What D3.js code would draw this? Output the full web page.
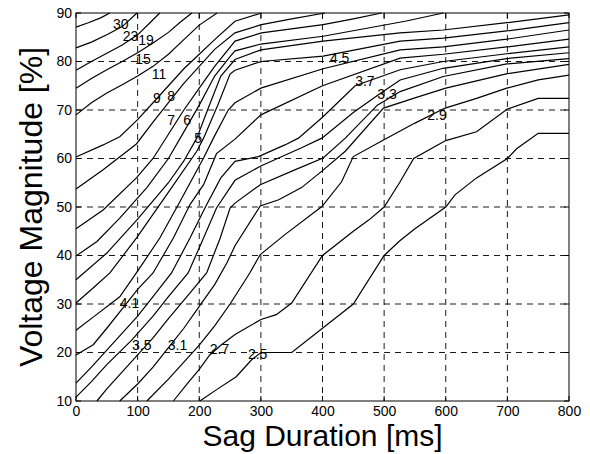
<!DOCTYPE html>
<html><head><meta charset="utf-8">
<script src="https://cdn.jsdelivr.net/npm/d3@7"></script>
<style>body{margin:0;background:#fff}svg{display:block}text{font-family:"Liberation Sans",Arial,sans-serif}</style>
</head><body><svg id="c" width="590" height="454"></svg>
<script>
const xTicks=[0,100,200,300,400,500,600,700,800];
const yTicks=[10,20,30,40,50,60,70,80,90];
// contour lines, [sag duration ms, voltage %]
const L30=[[0,87.1],[20,88],[40,89],[55,90]];
const L23=[[0,82.8],[25,84],[50,85.5],[75,87.2],[99,90]];
const L19=[[0,78.2],[25,80],[50,81.7],[75,83.4],[100,85.5],[120,88],[136,90]];
const L15=[[0,74.5],[25,76.5],[50,78.3],[75,80],[100,81.8],[125,83.8],[150,86],[170,88.2],[188,90]];
const L11=[[0,69],[25,71.5],[50,73.5],[75,75.2],[100,77],[125,79],[150,81.5],[175,84.5],[200,87.5],[229,90]];
const L9=[[0,60.3],[44,62.8],[71,64.5],[100,68],[125,71.5],[150,75],[175,78.5],[200,81.5],[225,84.5],[258,88.3],[301,90]];
const L8=[[0,53.7],[44,57.7],[98,63],[125,67.5],[150,71.5],[175,75.5],[200,79],[225,82.5],[258,85.9],[301,87.6],[350,88.8],[404,90]];
const L7=[[0,45.5],[44,49.4],[98,56],[125,60],[150,65],[175,70],[200,74.5],[225,79],[258,84.2],[301,85.9],[401,87.6],[450,88.8],[496,90]];
const L6=[[0,39.9],[34,42.9],[71,47.7],[115,54],[150,60],[175,65.5],[200,71],[225,77],[250,81],[258,82.2],[300,83.6],[401,85.2],[534,88.3],[596,90]];
const L5=[[0,35],[50,40.5],[100,47.5],[150,55],[175,59.5],[196,64.2],[215,70.5],[235,77],[258,80.4],[300,82.4],[401,84.2],[526,85.9],[596,86.5],[699,88],[800,89.6]];
const L45=[[0,30.2],[25,33],[55,36.4],[98,43.6],[147,52.5],[196,61.5],[207,64.2],[230,71],[250,77.4],[258,78.2],[300,80],[401,81.1],[526,84.2],[596,84.8],[699,86.3],[800,88]];
const L41=[[0,24.6],[30,27.5],[71,31.5],[98,36.4],[136,43.6],[169,51.2],[207,60.1],[223,64.2],[247,70],[258,71.5],[300,74.5],[401,78.5],[526,82.4],[596,83],[699,84.6],[800,86.5]];
const L39=[[0,19.5],[28,21.6],[50,25],[75,29],[100,33],[125,36.4],[158,43.6],[185,50.5],[207,54.6],[228,61],[258,64],[300,69],[400,75],[526,80.7],[596,81.5],[699,83],[800,84.6]];
const L37=[[0,13.7],[25,17],[50,20.5],[75,24],[100,27.5],[125,31.5],[155,36.4],[185,43.6],[210,50],[235,56],[258,59.4],[296,60.4],[339,62.8],[361,64.2],[400,68.5],[453,75],[526,78.3],[596,80],[699,81.6],[800,83]];
const L35=[[0,10.8],[25,14],[50,17.5],[90,22.5],[125,27.5],[150,31.5],[182,36.4],[207,43.6],[228,49.8],[258,55.5],[299,58.4],[366,62.2],[399,64.2],[450,69.5],[489,73],[526,76.2],[596,78.6],[699,80.6],[800,81.8]];
const L33=[[34,10],[50,12.5],[75,16],[100,19.5],[125,23],[150,27],[180,31.5],[212,36.4],[234,43.6],[250,49.8],[258,50.8],[299,54.6],[356,57.7],[401,60.1],[437,64.2],[489,71],[526,73.8],[596,76.9],[699,79.5],[800,80.6]];
const L31=[[71,10],[100,13.5],[125,17],[150,21],[175,25],[200,29.5],[225,34],[245,38.5],[258,42],[299,50.2],[329,51.5],[366,54],[399,57.4],[437,61.5],[499,70.4],[550,72.5],[600,74.5],[700,77.5],[800,79.4]];
const L29=[[115,10],[150,14.5],[175,18],[200,21.5],[225,25.5],[250,30],[282,36.4],[299,40.2],[339,44.3],[399,50.1],[431,55.2],[450,60.4],[499,63.8],[550,67.3],[599,70.4],[650,72.4],[699,74.5],[750,76.2],[800,77.2]];
const L27=[[158,10],[180,13.5],[200,16.5],[217,19.5],[235,21.5],[258,23.7],[300,26.8],[325,27.8],[350,30.2],[400,40],[450,45],[475,47.3],[500,50],[525,55],[548,60],[600,63.7],[650,65.5],[700,70.2],[750,72.4],[800,72.4]];
const L25=[[201,10],[230,12.5],[260,15],[285,18.5],[300,20],[350,20],[400,25],[450,30],[500,40],[525,43],[550,45.5],[600,50],[615,52.5],[650,56],[700,60],[715,62],[750,65.2],[800,65.2]];
const contourLines=[L30,L23,L19,L15,L11,L9,L8,L7,L6,L5,L45,L41,L39,L37,L35,L33,L31,L29,L27,L25];
// contour labels
const labelText=["30","23","19","15","11","9","8","7","6","5","4.5","4.1","3.7","3.3","2.9","3.5","3.1","2.7","2.5"];
const labelX=[60,76,101,96,123,125,148,148,174,192,412,71,453,489,570,91,149,217,279];
const labelY=[86.7,84.2,83.5,79.4,76.4,71.4,71.9,67.0,67.0,63.2,79.7,29.2,74.9,72.2,67.9,20.6,20.6,19.6,18.6];

const svg=d3.select("#c");
const m={l:76,r:569,t:13,b:401};
const x=d3.scaleLinear().domain([0,800]).range([m.l,m.r]);
const y=d3.scaleLinear().domain([10,90]).range([m.b,m.t]);

const g=svg.append("g");
g.selectAll("line.vx").data(xTicks.slice(1,-1)).join("line")
 .attr("x1",d=>x(d)).attr("x2",d=>x(d)).attr("y1",m.t).attr("y2",m.b)
 .attr("stroke","#000").attr("stroke-width",0.9).attr("stroke-dasharray","6,5");
g.selectAll("line.hy").data(yTicks.slice(1,-1)).join("line")
 .attr("y1",d=>y(d)).attr("y2",d=>y(d)).attr("x1",m.l).attr("x2",m.r)
 .attr("stroke","#000").attr("stroke-width",0.9).attr("stroke-dasharray","6,5");

const line=d3.line().x(d=>x(d[0])).y(d=>y(d[1]));
svg.append("g").selectAll("path").data(contourLines).join("path")
 .attr("d",line).attr("fill","none").attr("stroke","#000").attr("stroke-width",1.2);

svg.append("g").selectAll("text").data(labelText).join("text")
 .attr("x",(d,i)=>x(labelX[i])).attr("y",(d,i)=>y(labelY[i]))
 .attr("font-size",14).attr("fill","#000").text(d=>d);

svg.append("rect").attr("x",m.l).attr("y",m.t).attr("width",m.r-m.l).attr("height",m.b-m.t)
 .attr("fill","none").attr("stroke","#000").attr("stroke-width",1);
const tk=svg.append("g").attr("stroke","#000");
xTicks.forEach(v=>{tk.append("line").attr("x1",x(v)).attr("x2",x(v)).attr("y1",m.b).attr("y2",m.b-5);
 tk.append("line").attr("x1",x(v)).attr("x2",x(v)).attr("y1",m.t).attr("y2",m.t+5);});
yTicks.forEach(v=>{tk.append("line").attr("y1",y(v)).attr("y2",y(v)).attr("x1",m.l).attr("x2",m.l+5);
 tk.append("line").attr("y1",y(v)).attr("y2",y(v)).attr("x1",m.r).attr("x2",m.r-5);});

const ax=svg.append("g").attr("transform",`translate(0,${m.b})`)
 .call(d3.axisBottom(x).tickValues(xTicks).tickSize(0).tickPadding(5).tickFormat(d3.format("d")));
ax.select(".domain").remove();
ax.selectAll("text").attr("font-size",14).attr("font-family","Liberation Sans, Arial, sans-serif").attr("fill","#000");
const ay=svg.append("g").attr("transform",`translate(${m.l},0)`)
 .call(d3.axisLeft(y).tickValues(yTicks).tickSize(0).tickPadding(4).tickFormat(d3.format("d")));
ay.select(".domain").remove();
ay.selectAll("text").attr("font-size",14).attr("font-family","Liberation Sans, Arial, sans-serif").attr("fill","#000");

svg.append("text").attr("x",(m.l+m.r)/2).attr("y",446).attr("text-anchor","middle")
 .attr("font-size",30).text("Sag Duration [ms]");
svg.append("text").attr("transform",`translate(42,${(m.t+m.b)/2}) rotate(-90)`).attr("text-anchor","middle")
 .attr("font-size",32).text("Voltage Magnitude [%]");
</script></body></html>
